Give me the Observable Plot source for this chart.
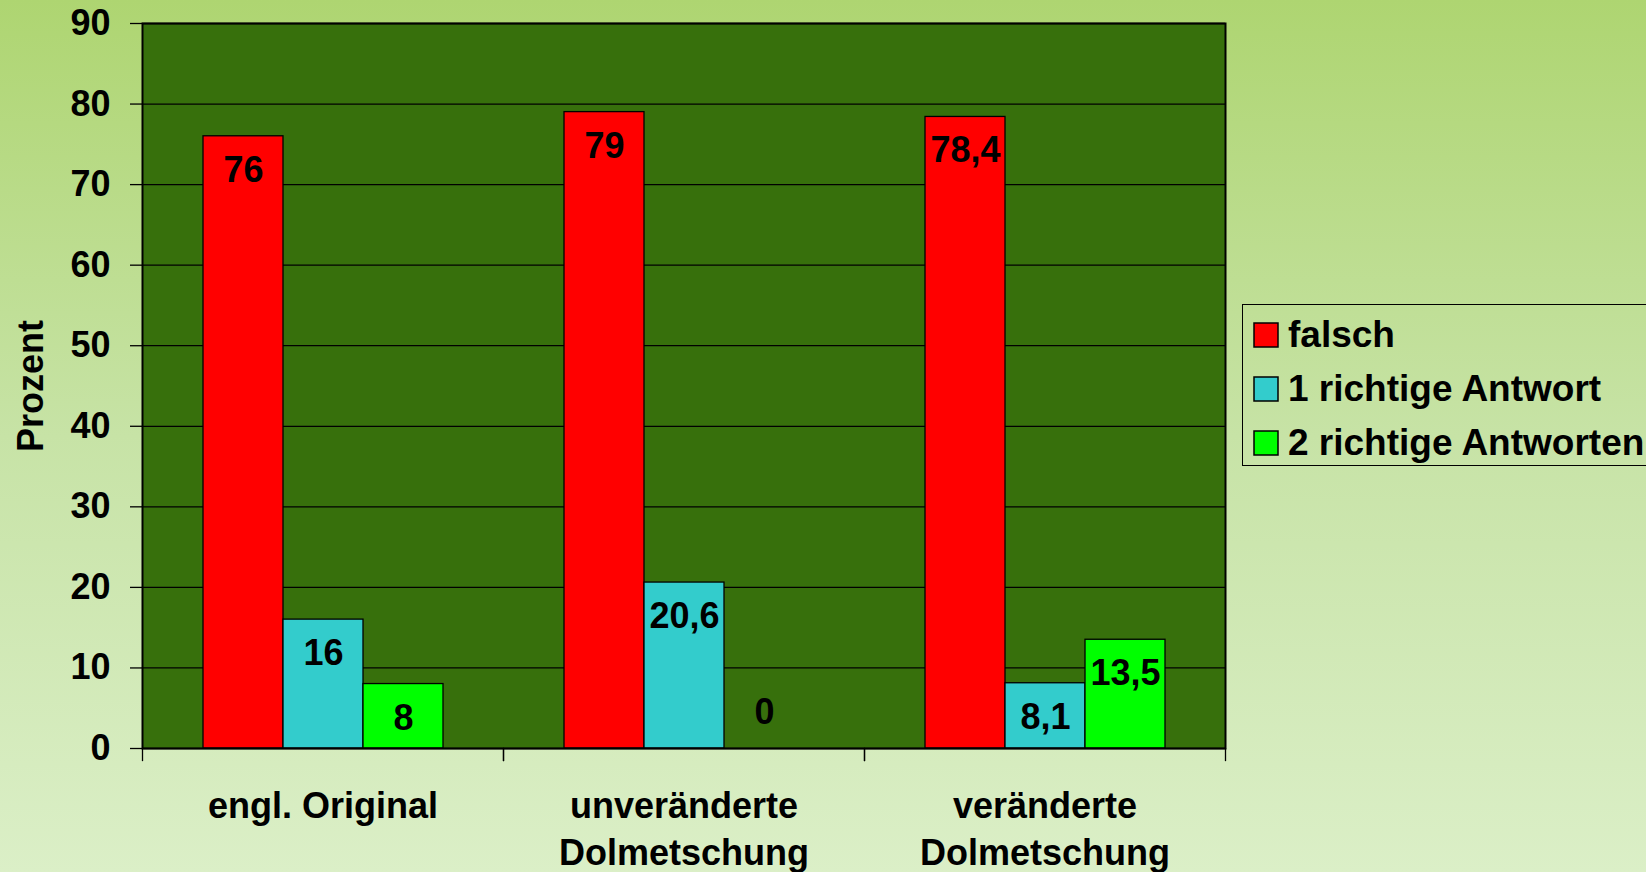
<!DOCTYPE html>
<html lang="de">
<head>
<meta charset="utf-8">
<title>Prozent richtiger Antworten</title>
<script src="https://cdn.jsdelivr.net/npm/d3@7"></script>
<script src="https://cdn.jsdelivr.net/npm/@observablehq/plot@0.6"></script>
<style>
  html, body { margin: 0; padding: 0; }
  body {
    width: 1646px; height: 872px; overflow: hidden; position: relative;
    background: linear-gradient(to bottom, #aed571 0%, #c7e3a6 50%, #dbefc7 100%);
    font-family: "Liberation Sans", Arial, sans-serif;
    color: #000;
  }
  #chart { position: absolute; left: 0; top: 0; }
  #legend {
    position: absolute; left: 1242px; top: 304px; width: 440px; height: 162px;
    border: 1.5px solid #000; box-sizing: border-box; padding: 3px 0 0 11px;
  }
  #legend .lg-swatches { margin: 0; }
  #legend .lg-swatch { height: 54px; display: flex; align-items: center; padding: 0; }
  #legend .lg-swatch > svg { margin-right: 10px; }
  #legend .lg-swatch rect { stroke: #000; stroke-width: 1.5px; }
  #legend .lg-swatch-label { overflow: visible; text-overflow: clip; }
</style>
</head>
<body>
<div id="chart"></div>
<div id="legend"></div>
<script>
// Categories (two-line labels use "\n")
const groups = ["engl. Original", "unveränderte\nDolmetschung", "veränderte\nDolmetschung"];
// Answer categories and their colours
const series = ["falsch", "1 richtige Antwort", "2 richtige Antworten"];
const seriesColors = ["#ff0000", "#33cccc", "#00ff00"];
// Percentages per category
const falsch = [76, 79, 78.4];
const eineRichtige = [16, 20.6, 8.1];
const zweiRichtige = [8, 0, 13.5];
// Y axis ticks
const yTicks = [0, 10, 20, 30, 40, 50, 60, 70, 80, 90];

const values = [falsch, eineRichtige, zweiRichtige];
const data = groups.flatMap((group, g) =>
  series.map((s, i) => ({group, series: s, value: values[i][g]}))
);

const W = 1646, H = 872;
const margin = {top: 23, right: 421, bottom: 124, left: 142};
const plotGreen = "#37700c";
const fmt = (v) => String(v).replace(".", ",");
const font = {fontSize: 36, fontWeight: "bold"};

const chart = Plot.plot({
  width: W,
  height: H,
  marginTop: margin.top,
  marginRight: margin.right,
  marginBottom: margin.bottom,
  marginLeft: margin.left,
  style: {background: "transparent", fontFamily: "'Liberation Sans', Arial, sans-serif", color: "#000", overflow: "visible"},
  fx: {domain: groups, padding: 0, axis: null},
  x: {domain: series, paddingInner: 0, paddingOuter: 0.74, axis: null},
  y: {domain: [0, 90], axis: null},
  color: {domain: series, range: seriesColors},
  marks: [
    // plot area background and outline over all groups
    Plot.frame({fill: plotGreen, facet: "super"}),
    Plot.gridY(yTicks, {stroke: "#000", strokeOpacity: 1, strokeWidth: 1.3}),
    // tick marks between the categories
    Plot.frame({anchor: "left", stroke: "#000", strokeWidth: 1.3, insetTop: H - margin.top - margin.bottom, insetBottom: -12}),
    Plot.frame({anchor: "right", stroke: "#000", strokeWidth: 1.3, insetTop: H - margin.top - margin.bottom, insetBottom: -12}),
    Plot.barY(data, {fx: "group", x: "series", y: "value", fill: "series", stroke: "#000", strokeWidth: 1.3}),
    Plot.frame({stroke: "#000", strokeWidth: 2, facet: "super"}),
    Plot.text(data.filter((d) => d.value > 0), {
      fx: "group", x: "series", y: "value", text: (d) => fmt(d.value), dy: 34, fill: "#000", ...font
    }),
    Plot.text(data.filter((d) => d.value === 0), {
      fx: "group", x: "series", y: "value", text: (d) => fmt(d.value), dy: -36, fill: "#000", ...font
    }),
    Plot.axisY(yTicks, {
      tickSize: 12, tickPadding: 20, stroke: "#000", strokeWidth: 1.3, tickFormat: (d) => String(d),
      label: "Prozent", labelAnchor: "center", labelOffset: 125, labelArrow: "none", ...font
    }),
    Plot.axisFx({
      anchor: "bottom", tickSize: 0, tickPadding: 36, label: null, lineHeight: 1.3,
      tickFormat: (d) => d, ...font
    })
  ]
});
document.getElementById("chart").appendChild(chart);

const legend = chart.legend("color", {
  legend: "swatches",
  columns: 1,
  swatchSize: 24,
  className: "lg",
  style: {fontSize: "37px", fontWeight: "bold", fontFamily: "'Liberation Sans', Arial, sans-serif", color: "#000"}
});
document.getElementById("legend").appendChild(legend);
</script>
</body>
</html>
